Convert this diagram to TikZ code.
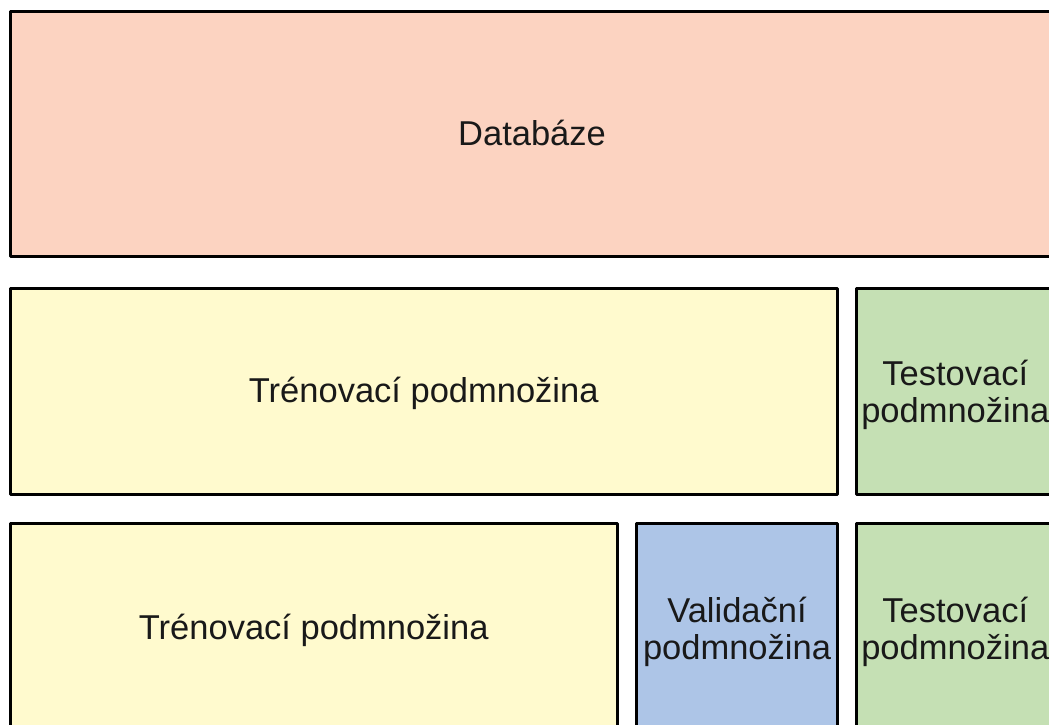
\documentclass[tikz,border=0pt]{standalone}
\usepackage{fontspec}
\setmainfont{Liberation Sans}
\definecolor{dbfill}{RGB}{252,211,193}
\definecolor{trfill}{RGB}{255,250,206}
\definecolor{tefill}{RGB}{197,224,180}
\definecolor{vafill}{RGB}{173,197,231}
\tikzset{
  box/.style={draw=black, line width=3pt, line join=round, rectangle, anchor=north west,
    inner sep=0pt, outer sep=0pt, align=center, text depth=0pt,
    font=\fontsize{34.5}{36.8}\selectfont, text=black!90},
  oneline/.style={text height=22.8pt},
}
\begin{document}
\begin{tikzpicture}[x=1pt,y=-1pt]
\useasboundingbox (0,0) rectangle (1049,724);
\clip (0,0) rectangle (1049,724);
\node[box, oneline, fill=dbfill, minimum width=1044pt, minimum height=245pt] (db) at (10,11.5) {Databáze};
\node[box, oneline, fill=trfill, minimum width=827.5pt, minimum height=206pt] (tr1) at (10,288.5) {Trénovací podmnožina};
\node[box, fill=tefill, minimum width=197.5pt, minimum height=206pt] (te1) at (856.5,288.5) {Testovací\\podmnožina};
\node[box, oneline, fill=trfill, minimum width=607.5pt, minimum height=210pt] (tr2) at (10,523) {Trénovací podmnožina};
\node[box, fill=vafill, minimum width=201pt, minimum height=210pt] (va2) at (636.5,523) {Validační\\podmnožina};
\node[box, fill=tefill, minimum width=197.5pt, minimum height=210pt] (te2) at (856.5,523) {Testovací\\podmnožina};
\end{tikzpicture}
\end{document}
